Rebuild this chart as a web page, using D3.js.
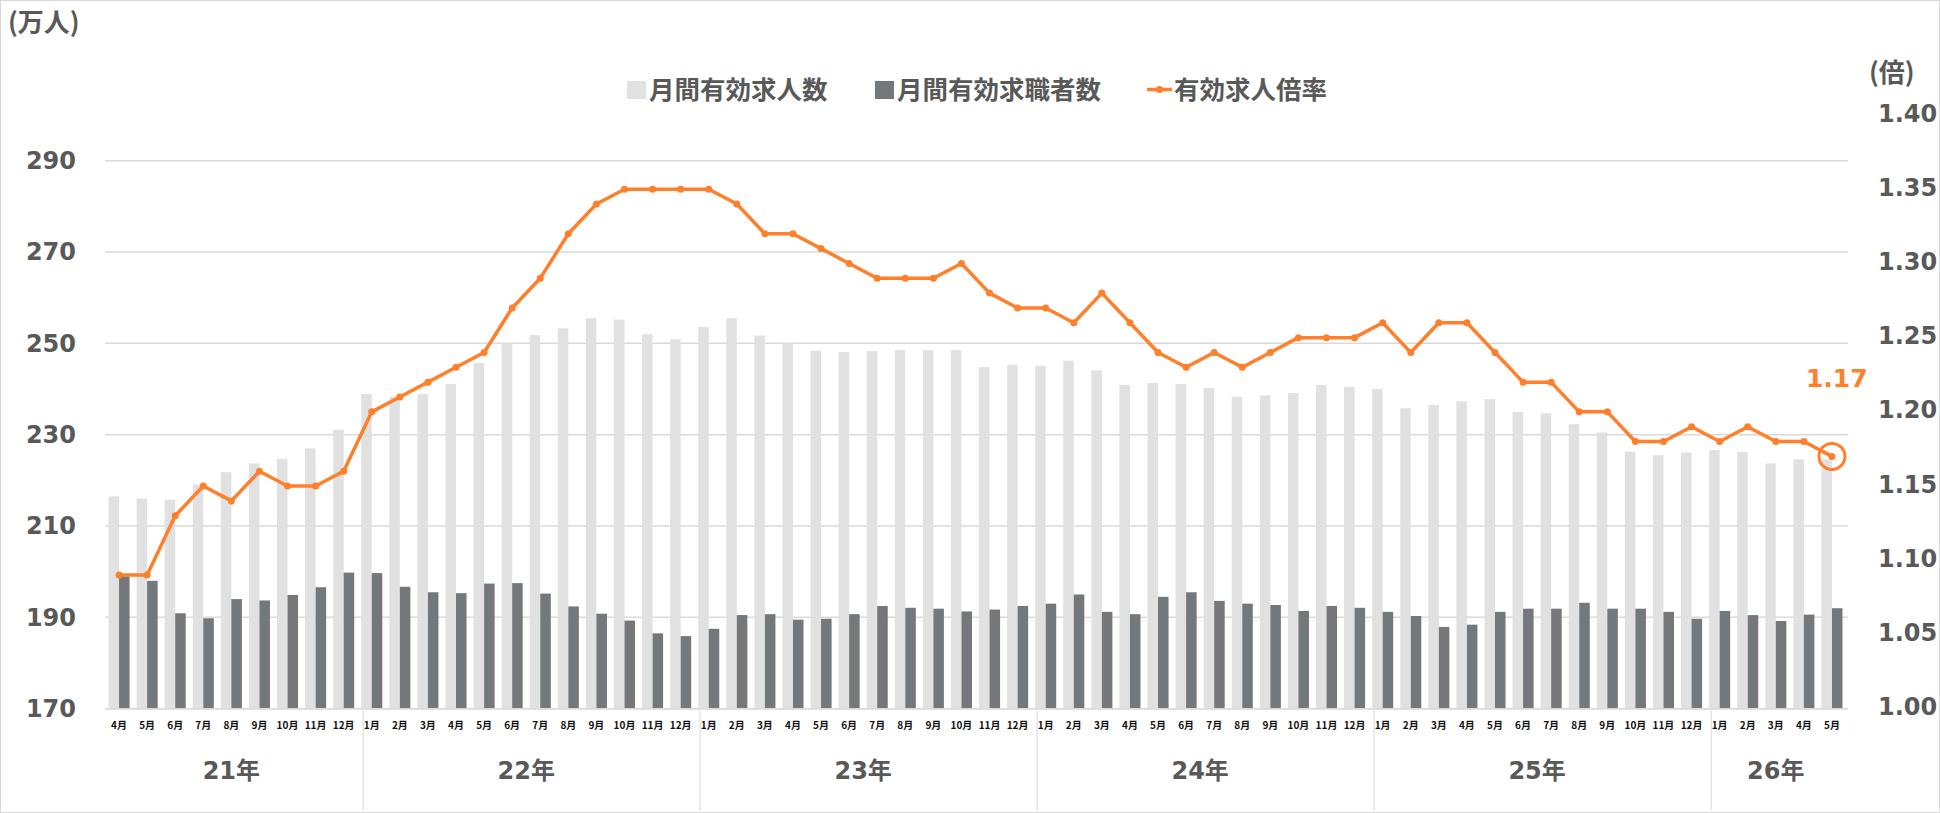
<!DOCTYPE html>
<html>
<head>
<meta charset="utf-8">
<script src="https://cdn.jsdelivr.net/npm/d3@7"></script>
<style>
  body { margin: 0; background: #fff; }
  svg { display: block; }
  .num { font-family: 'DejaVu Sans', 'Noto Sans CJK JP', sans-serif; font-weight: bold; fill: #595959; }
  .cjk { font-family: 'Noto Sans CJK JP', sans-serif; font-weight: bold; fill: #595959; }
</style>
</head>
<body>
<div id="chart"></div>
<script>
(function () {
  var monthLabels = [
    '4月', '5月', '6月', '7月', '8月', '9月', '10月', '11月', '12月',
    '1月', '2月', '3月', '4月', '5月', '6月', '7月', '8月', '9月', '10月', '11月', '12月',
    '1月', '2月', '3月', '4月', '5月', '6月', '7月', '8月', '9月', '10月', '11月', '12月',
    '1月', '2月', '3月', '4月', '5月', '6月', '7月', '8月', '9月', '10月', '11月', '12月',
    '1月', '2月', '3月', '4月', '5月', '6月', '7月', '8月', '9月', '10月', '11月', '12月',
    '1月', '2月', '3月', '4月', '5月'
  ];
  var yearLabels = ['21年', '22年', '23年', '24年', '25年', '26年'];
  var monthsPerYear = [9, 12, 12, 12, 12, 5];

  // 月間有効求人数 (万人)
  var openings = [
    216.5, 216.0, 215.8, 219.1, 221.8, 223.7, 224.7, 227.0, 231.1,
    238.9, 238.3, 238.9, 241.1, 245.7, 250.0, 251.8, 253.3, 255.5, 255.2, 252.0, 250.9,
    253.6, 255.5, 251.7, 250.0, 248.4, 248.1, 248.3, 248.5, 248.5, 248.5, 244.8, 245.3,
    245.1, 246.2, 244.1, 240.9, 241.3, 241.1, 240.2, 238.3, 238.6, 239.1, 240.9, 240.5,
    240.0, 235.8, 236.5, 237.3, 237.8, 235.0, 234.7, 232.3, 230.5, 226.3, 225.5, 226.1,
    226.6, 226.2, 223.7, 224.6, 224.6
  ];
  // 月間有効求職者数 (万人)
  var seekers = [
    199.0, 198.0, 190.9, 189.8, 194.0, 193.7, 194.9, 196.6, 199.8,
    199.7, 196.7, 195.5, 195.3, 197.4, 197.5, 195.2, 192.4, 190.8, 189.3, 186.5, 185.9,
    187.5, 190.5, 190.7, 189.5, 189.7, 190.7, 192.5, 192.1, 191.9, 191.3, 191.7, 192.5,
    193.0, 195.0, 191.2, 190.7, 194.5, 195.5, 193.6, 193.0, 192.7, 191.4, 192.5, 192.1,
    191.2, 190.3, 187.9, 188.4, 191.2, 191.9, 191.9, 193.2, 191.9, 191.9, 191.2, 189.7,
    191.4, 190.5, 189.2, 190.6, 192.0
  ];
  // 有効求人倍率 (倍)
  var ratio = [
    1.09, 1.09, 1.13, 1.15, 1.14, 1.16, 1.15, 1.15, 1.16,
    1.20, 1.21, 1.22, 1.23, 1.24, 1.27, 1.29, 1.32, 1.34, 1.35, 1.35, 1.35,
    1.35, 1.34, 1.32, 1.32, 1.31, 1.30, 1.29, 1.29, 1.29, 1.30, 1.28, 1.27,
    1.27, 1.26, 1.28, 1.26, 1.24, 1.23, 1.24, 1.23, 1.24, 1.25, 1.25, 1.25,
    1.26, 1.24, 1.26, 1.26, 1.24, 1.22, 1.22, 1.20, 1.20, 1.18, 1.18, 1.19,
    1.18, 1.19, 1.18, 1.18, 1.17
  ];

  var seriesNames = ['月間有効求人数', '月間有効求職者数', '有効求人倍率'];
  var leftTicks = [170, 190, 210, 230, 250, 270, 290];
  var rightTicks = [1.00, 1.05, 1.10, 1.15, 1.20, 1.25, 1.30, 1.35, 1.40];

  var width = 1940;
  var height = 813;
  var plot = { left: 105, right: 1846, top: 115, bottom: 708.7 };
  var colors = { light: '#e1e1e1', dark: '#75787b', line: '#ff7f2a', grid: '#d9d9d9', text: '#595959' };

  var svg = d3.select('#chart').append('svg')
    .attr('width', width)
    .attr('height', height);

  svg.append('rect')
    .attr('x', 0.5).attr('y', 0.5)
    .attr('width', width - 1).attr('height', height - 1)
    .attr('fill', '#fff')
    .attr('stroke', colors.grid);

  var idx = d3.range(monthLabels.length);
  var x0 = d3.scaleBand().domain(idx).range([plot.left, plot.right]).paddingInner(0.25).paddingOuter(0.125);
  var x1 = d3.scaleBand().domain([0, 1]).range([0, x0.bandwidth()]);
  var yL = d3.scaleLinear().domain([170, 300]).range([plot.bottom, plot.top]);
  var yR = d3.scaleLinear().domain([1.00, 1.40]).range([plot.bottom, plot.top]);
  function cx(i) { return x0(i) + x0.bandwidth() / 2; }

  // gridlines
  svg.append('g').selectAll('line').data(leftTicks).join('line')
    .attr('x1', plot.left).attr('x2', plot.right + 2)
    .attr('y1', function (d) { return yL(d); })
    .attr('y2', function (d) { return yL(d); })
    .attr('stroke', colors.grid)
    .attr('stroke-width', 1.5);

  // bars
  var bars = svg.append('g');
  bars.selectAll('rect.open').data(openings).join('rect')
    .attr('class', 'open')
    .attr('x', function (d, i) { return x0(i) + x1(0); })
    .attr('width', x1.bandwidth())
    .attr('y', function (d) { return yL(d); })
    .attr('height', function (d) { return yL(170) - yL(d); })
    .attr('fill', colors.light);
  bars.selectAll('rect.seek').data(seekers).join('rect')
    .attr('class', 'seek')
    .attr('x', function (d, i) { return x0(i) + x1(1); })
    .attr('width', x1.bandwidth())
    .attr('y', function (d) { return yL(d); })
    .attr('height', function (d) { return yL(170) - yL(d); })
    .attr('fill', colors.dark);

  // left axis
  var leftAxis = svg.append('g')
    .attr('transform', 'translate(' + plot.left + ',0)')
    .call(d3.axisLeft(yL).tickValues(leftTicks).tickSize(0).tickPadding(29));
  leftAxis.select('.domain').remove();
  leftAxis.selectAll('text').attr('class', 'num').attr('font-size', 24).attr('fill', colors.text);

  // right axis
  var rightAxis = svg.append('g')
    .attr('transform', 'translate(' + plot.right + ',0)')
    .call(d3.axisRight(yR).tickValues(rightTicks).tickSize(0).tickPadding(32).tickFormat(d3.format('.2f')));
  rightAxis.select('.domain').remove();
  rightAxis.selectAll('text').attr('class', 'num').attr('font-size', 24).attr('fill', colors.text).attr('dy', '0.25em');

  // category axis (months)
  var bottomAxis = svg.append('g')
    .attr('transform', 'translate(0,' + plot.bottom + ')')
    .call(d3.axisBottom(x0).tickSize(0).tickPadding(13).tickFormat(function (d) { return monthLabels[d]; }));
  bottomAxis.select('.domain')
    .attr('d', 'M' + plot.left + ',0H' + (plot.right + 2))
    .attr('stroke', colors.grid)
    .attr('stroke-width', 1.5);
  bottomAxis.selectAll('text')
    .attr('font-family', "'Noto Sans CJK JP', sans-serif")
    .attr('font-weight', 'bold')
    .attr('font-size', 10)
    .attr('fill', '#111');

  // year groups
  var start = 0;
  var years = svg.append('g');
  yearLabels.forEach(function (label, k) {
    var first = start;
    var last = start + monthsPerYear[k] - 1;
    if (k > 0) {
      years.append('line')
        .attr('x1', x0(first) + 2).attr('x2', x0(first) + 2)
        .attr('y1', plot.bottom).attr('y2', height - 2)
        .attr('stroke', '#e6e6e6')
        .attr('stroke-width', 1.5);
    }
    years.append('text')
      .attr('class', 'num')
      .attr('x', (cx(first) + cx(last)) / 2)
      .attr('y', 779)
      .attr('text-anchor', 'middle')
      .attr('font-size', 24)
      .text(label);
    start += monthsPerYear[k];
  });

  // ratio line
  var line = d3.line()
    .x(function (d, i) { return cx(i); })
    .y(function (d) { return yR(d); });
  svg.append('path')
    .datum(ratio)
    .attr('d', line)
    .attr('fill', 'none')
    .attr('stroke', colors.line)
    .attr('stroke-width', 3.5)
    .attr('stroke-linejoin', 'round');
  svg.append('g').selectAll('circle').data(ratio).join('circle')
    .attr('cx', function (d, i) { return cx(i); })
    .attr('cy', function (d) { return yR(d); })
    .attr('r', 3.5)
    .attr('fill', colors.line);

  // highlight last value
  var lastI = ratio.length - 1;
  svg.append('circle')
    .attr('cx', cx(lastI)).attr('cy', yR(ratio[lastI]))
    .attr('r', 13)
    .attr('fill', 'none')
    .attr('stroke', colors.line)
    .attr('stroke-width', 3);
  svg.append('text')
    .attr('class', 'num')
    .attr('x', cx(lastI) - 26)
    .attr('y', yR(ratio[lastI]) - 69)
    .attr('font-size', 25)
    .style('fill', colors.line)
    .text(d3.format('.2f')(ratio[lastI]));

  // unit labels
  svg.append('text').attr('class', 'cjk')
    .attr('x', 8).attr('y', 32)
    .style('font-size', '26px')
    .text('(万人)');
  svg.append('text').attr('class', 'cjk')
    .attr('x', 1869).attr('y', 82)
    .style('font-size', '26px')
    .text('(倍)');

  // legend
  var legend = svg.append('g');
  var lg = [
    { x: 627, type: 'rect', color: colors.light },
    { x: 875, type: 'rect', color: colors.dark },
    { x: 1147, type: 'line', color: colors.line }
  ];
  lg.forEach(function (item, k) {
    if (item.type === 'rect') {
      legend.append('rect')
        .attr('x', item.x).attr('y', 81)
        .attr('width', 19).attr('height', 18)
        .attr('fill', item.color);
    } else {
      legend.append('line')
        .attr('x1', item.x).attr('x2', item.x + 25)
        .attr('y1', 89.5).attr('y2', 89.5)
        .attr('stroke', item.color).attr('stroke-width', 3.5);
      legend.append('circle')
        .attr('cx', item.x + 12.5).attr('cy', 89.5).attr('r', 3.5)
        .attr('fill', item.color);
    }
    legend.append('text').attr('class', 'cjk')
      .attr('x', item.x + (item.type === 'rect' ? 22 : 27))
      .attr('y', 99)
      .attr('font-size', 25.5)
      .text(seriesNames[k]);
  });
})();
</script>
</body>
</html>
